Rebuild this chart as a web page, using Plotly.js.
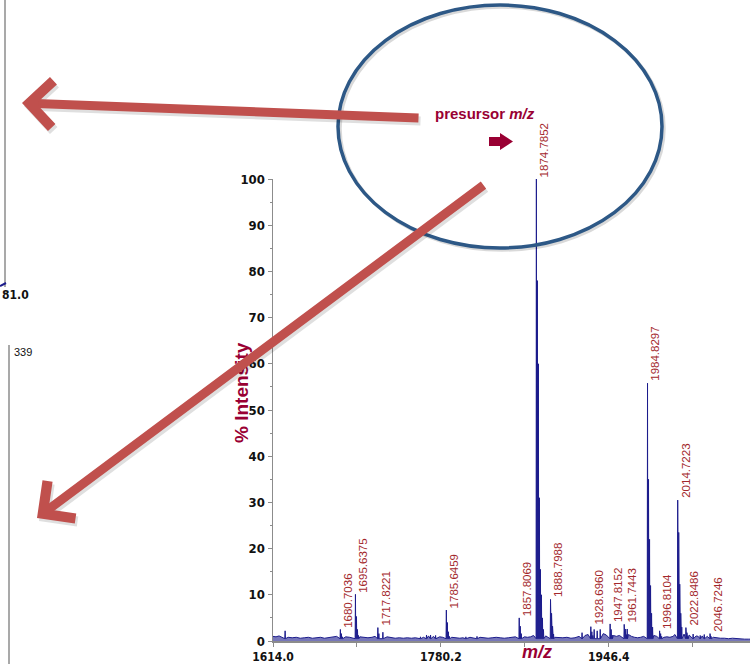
<!DOCTYPE html>
<html><head><meta charset="utf-8">
<script src="https://cdn.plot.ly/plotly-3.0.1.min.js"></script>
<style>html,body{margin:0;padding:0;background:#fff;overflow:hidden}#chart{width:750px;height:664px}</style>
</head><body><div id="chart"></div>
<script>
// ---- data ----
const peakMz = [1680.7036,1695.6375,1717.8221,1785.6459,1857.8069,1874.7852,1888.7988,1928.6960,1947.8152,1961.7443,1984.8297,1996.8104,2014.7223,2022.8486,2046.7246];
const peakLabels = ['1680.7036','1695.6375','1717.8221','1785.6459','1857.8069','1874.7852','1888.7988','1928.6960','1947.8152','1961.7443','1984.8297','1996.8104','2014.7223','2022.8486','2046.7246'];
// isotope envelope intensities (%) for each labelled peak: mono, +1, +2, ...
const isoInt = [
  [2.5,1.6,0.9],
  [10.1,5.3,2.5,1.2],
  [2.9,1.6],
  [6.7,4.0,2.0,1.0],
  [5.0,3.2,1.6],
  [100,78,60,31,15.5,10,5,2.5],
  [9.0,6.0,3.2,1.5],
  [3.1,2.0,1.2],
  [3.7,2.5,1.3],
  [3.6,2.6,1.4],
  [55.8,35,22,12,6,3],
  [2.2,1.6,1.0],
  [30.5,23.5,12.3,6,3],
  [2.9,1.8,1.0],
  [1.6,1.0]
];
// unlabelled small peaks
const minorMz  = [1626,1722.8,1760,1766,1770,1775,1805,1816,1920,1932,1935,1938,1964.7,2030,2037,2041];
const minorInt = [2.2,1.9,0.9,1.3,1.3,1.2,0.9,1.0,1.8,2.5,2.2,2.5,2.6,1.5,1.2,1.4];
// baseline noise
const noiseMz  = [1614,1617,1620,1623,1629,1633,1637,1641,1645,1649,
                  1653,1657,1661,1665,1669,1673,1677,1686,1690,1700,
                  1704,1708,1712,1715,1727,1731,1735,1739,1743,1747,
                  1751,1755,1763,1768,1773,1779,1782,1791,1795,1799,
                  1802,1809,1812,1819,1823,1827,1831,1835,1839,1843,
                  1847,1851,1854,1863,1866,1869,1872,1884,1893,1897,
                  1901,1905,1909,1913,1917,1923,1926,1941,1944,1951,
                  1954,1957,1966,1969,1972,1975,1978,1981,1991,1994,
                  2001,2004,2007,2010,2012,2021,2026,2033,2035,2039,
                  2044,2050,2053,2057,2061,2065,2069,2073,2077,2081,
                  2085,2086.3];
const noiseInt = [1.0,0.9,1.1,0.8,0.8,0.7,0.8,0.6,0.7,0.8,
                  0.6,0.7,0.8,0.6,0.7,0.8,1.0,0.9,0.8,0.9,
                  0.8,0.7,0.8,1.0,0.9,0.7,0.6,0.7,0.6,0.7,
                  0.6,0.7,0.8,1.1,1.0,0.9,0.8,0.8,0.7,0.6,
                  0.7,0.8,0.7,0.8,0.7,0.6,0.7,0.8,0.7,0.6,
                  0.7,0.8,0.9,0.9,0.8,0.9,1.2,1.1,0.8,0.7,
                  0.7,0.8,0.6,0.7,1.0,1.2,1.4,1.6,1.3,1.2,
                  1.0,1.2,1.4,1.0,0.8,0.7,0.8,1.0,1.2,1.0,
                  0.8,0.9,0.8,1.0,1.4,1.5,1.3,1.1,1.0,1.1,
                  1.0,0.8,0.7,0.6,0.6,0.5,0.6,0.5,0.5,0.4,
                  0.4,0.4];
const xTickVals = [1614.0,1697.1,1780.2,1863.3,1946.4,2029.5];
const xTickText = ['1614.0','','1780.2','','1946.4',''];
const yTickVals = [0,10,20,30,40,50,60,70,80,90,100];

// ---- build the profile trace from the sticks ----
const ISO = 1.003, HALF = 0.3, FOOT = 0.5;
const sticks = [];
peakMz.forEach((m,i)=>isoInt[i].forEach((h,k)=>sticks.push([m+k*ISO,h])));
minorMz.forEach((m,i)=>sticks.push([m,minorInt[i]]));
let pts = [];
sticks.forEach(([m,h])=>{pts.push([m-HALF,FOOT]);pts.push([m,h]);pts.push([m+HALF,FOOT]);});
noiseMz.forEach((m,i)=>{ if(!sticks.some(s=>Math.abs(s[0]-m)<0.8)) pts.push([noiseMz[i],noiseInt[i]]); });
pts.sort((a,b)=>a[0]-b[0]);

// ---- geometry helpers (page pixels -> paper) ----
const W=750,Hh=664,L=273,R=0,T=179,B=23;
const PW=W-L-R, PH=Hh-T-B;
const px=x=>(x-L)/PW, py=y=>(Hh-B-y)/PH;

const narrow='Liberation Sans Narrow, Arial Narrow, DejaVu Sans Condensed, Arial, sans-serif';
const sans='Arial, Liberation Sans, sans-serif';
const dark='#990033', lab='#a3282c', red='#c0504d';

const ann=[];
// y title (drawn first so the arrow covers it)
ann.push({xref:'paper',yref:'paper',x:px(241),y:py(393),text:'% Intensity',textangle:-90,showarrow:false,
  font:{family:sans,size:19,weight:'bold',color:dark},xanchor:'center',yanchor:'middle'});
// peak labels
peakMz.forEach((m,i)=>ann.push({x:m,y:isoInt[i][0],xref:'x',yref:'y',text:peakLabels[i],textangle:-90,showarrow:false,
  xanchor:'left',yanchor:'bottom',xshift:0,font:{family:sans,size:11.5,color:lab}}));
// x title
ann.push({xref:'paper',yref:'paper',x:px(537),y:py(652),text:'<i>m/z</i>',showarrow:false,xanchor:'center',yanchor:'middle',
  font:{family:sans,size:18,weight:'bold',color:dark}});
// presursor text
ann.push({xref:'paper',yref:'paper',x:px(433),y:py(114),text:'presursor <i>m/z</i>',showarrow:false,xanchor:'left',yanchor:'middle',
  font:{family:sans,size:15,weight:'bold',color:dark}});
// fragments of neighbouring charts
ann.push({xref:'paper',yref:'paper',x:px(0),y:py(295),text:'81.0',showarrow:false,xanchor:'left',yanchor:'middle',
  font:{family:narrow,size:12,weight:'bold',color:'#111'}});
ann.push({xref:'paper',yref:'paper',x:px(12),y:py(352),text:'339',showarrow:false,xanchor:'left',yanchor:'middle',
  font:{family:sans,size:11,color:'#111'}});
// big red arrows (shadow then arrow)
function bigArrow(tip,tail,color,dx,dy){
  return {xref:'paper',yref:'paper',x:px(tip[0]+dx),y:py(tip[1]+dy),ax:tail[0]-tip[0],ay:tail[1]-tip[1],
    text:' ',showarrow:true,arrowhead:4,arrowsize:1.0,arrowwidth:9,arrowcolor:color,standoff:0,startstandoff:0,
    font:{size:1}};
}
const arrows=[[[22,103],[420,118]],[[37,518],[485,184]]];
arrows.forEach(a=>ann.push(bigArrow(a[0],a[1],'rgba(0,0,0,0.12)',2,3)));
arrows.forEach(a=>ann.push(bigArrow(a[0],a[1],red,0,0)));

// shapes
const shapes=[];
shapes.push({type:'circle',xref:'paper',yref:'paper',x0:px(340),x1:px(664),y0:py(250),y1:py(7),line:{color:'rgba(0,0,0,0.15)',width:3.5}});
shapes.push({type:'circle',xref:'paper',yref:'paper',x0:px(338),x1:px(662),y0:py(248),y1:py(5),line:{color:'#2d5886',width:3.5}});
// small block arrow
const blk=[[489,137],[500,137],[500,133],[513,141.5],[500,150],[500,146],[489,146]];
shapes.push({type:'path',xref:'paper',yref:'paper',path:'M'+blk.map(p=>px(p[0])+','+py(p[1])).join('L')+'Z',
  fillcolor:dark,line:{width:0}});
// fragment axis lines
shapes.push({type:'line',xref:'paper',yref:'paper',x0:px(5),x1:px(5),y0:py(0),y1:py(287),line:{color:'#8c8c8c',width:1.5}});
shapes.push({type:'line',xref:'paper',yref:'paper',x0:px(0),x1:px(6),y0:py(286),y1:py(283),line:{color:'#1c1c8c',width:2}});
shapes.push({type:'line',xref:'paper',yref:'paper',x0:px(9),x1:px(9),y0:py(345),y1:py(664),line:{color:'#8c8c8c',width:1.5}});

const trace={x:pts.map(p=>p[0]),y:pts.map(p=>p[1]),type:'scatter',mode:'lines',
  line:{color:'#1c1c8c',width:1},fill:'tozeroy',fillcolor:'rgba(28,28,140,0.6)',hoverinfo:'skip'};

const layout={width:W,height:Hh,margin:{l:L,r:R,t:T,b:B,pad:0},paper_bgcolor:'#fff',plot_bgcolor:'rgba(0,0,0,0)',showlegend:false,
  xaxis:{range:[1614,2086.3],showline:true,linecolor:'#8c8c8c',linewidth:1.5,ticks:'outside',ticklen:4,tickcolor:'#8c8c8c',
    tickmode:'array',tickvals:xTickVals,ticktext:xTickText,tickfont:{family:narrow,size:12,weight:'bold',color:'#111'},
    showgrid:false,zeroline:false},
  yaxis:{range:[0,100],showline:true,linecolor:'#8c8c8c',linewidth:1.5,ticks:'outside',ticklen:4,tickcolor:'#8c8c8c',
    tickmode:'array',tickvals:yTickVals,tickfont:{family:narrow,size:13,weight:'bold',color:'#111'},
    minor:{tickmode:'linear',tick0:0,dtick:5,ticks:'outside',ticklen:2,tickcolor:'#8c8c8c'},
    showgrid:false,zeroline:false},
  annotations:ann,shapes:shapes};
Plotly.newPlot('chart',[trace],layout,{staticPlot:true,displayModeBar:false});
</script></body></html>
